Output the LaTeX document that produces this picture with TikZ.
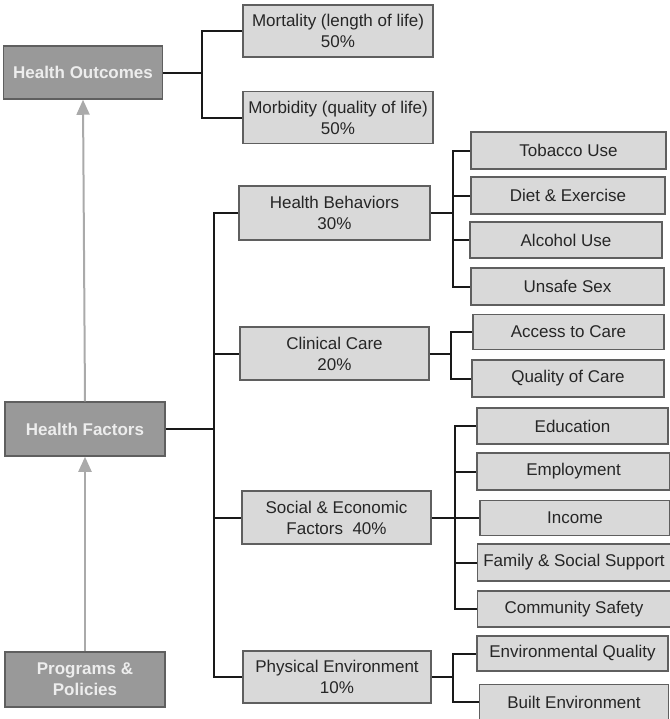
\documentclass[tikz,border=0pt]{standalone}
\usepackage{fontspec}
\setmainfont{Liberation Sans}
\usepackage{tikz}
\usetikzlibrary{arrows.meta}
\definecolor{darkbox}{RGB}{153,153,153}
\definecolor{lightbox}{RGB}{217,217,217}
\definecolor{boxline}{RGB}{95,95,95}
\definecolor{liftgray}{RGB}{170,170,170}

\begin{document}
\begin{tikzpicture}[scale=1,
  every node/.style={font=\fontsize{17bp}{21bp}\selectfont,align=center,inner sep=0pt},
  topbox/.style={draw=boxline,line width=1.5bp,fill=darkbox,text=white!93!black,font=\fontsize{17bp}{21bp}\selectfont\bfseries,minimum width=160bp,minimum height=54bp},
  midbox/.style={draw=boxline,line width=1.5bp,fill=lightbox,text=black!85,minimum width=190bp,minimum height=53bp},
  leafbox/.style={draw=boxline,line width=1.5bp,fill=lightbox,text=black!85,minimum width=193bp,minimum height=37bp},
  link/.style={draw=black!90,line width=2bp},
  lift/.style={draw=liftgray,line width=2bp,-{Triangle[width=13bp,length=15bp]}}]
\useasboundingbox (0bp,0bp) rectangle (670bp,-719bp);
% left column
\node (HO) at (83bp,-72.5bp)[topbox,minimum width=159bp,minimum height=53bp] {Health Outcomes};
\node (HF) at (85bp,-429bp)[topbox] {Health Factors};
\node (PP) at (85bp,-679.5bp)[topbox,minimum height=55bp] {Programs \&\\ Policies};
\draw [lift] (HF.north) to (HO.south);
\draw [lift] (PP.north) to (HF.south);
% outcomes
\node (Mort) at (338bp,-31bp)[midbox,minimum height=52bp] {Mortality (length of life)\\ 50\%};
\node (Morb) at (338bp,-117.5bp)[midbox,minimum height=52bp] {Morbidity (quality of life)\\ 50\%};
% factors
\node (HB) at (334.5bp,-213bp)[midbox,minimum width=191bp,minimum height=54bp] {Health Behaviors\\ 30\%};
\node (CC) at (334.5bp,-353.5bp)[midbox,minimum width=189bp] {Clinical Care\\ 20\%};
\node (SE) at (336.5bp,-517.5bp)[midbox,minimum width=189bp] {Social \& Economic\\ Factors\ \ 40\%};
\node (PE) at (337bp,-677bp)[midbox,minimum width=188bp,minimum height=52bp] {Physical Environment\\ 10\%};
% leaves
\node (Tob) at (568.5bp,-150.5bp)[leafbox,minimum width=195bp] {Tobacco Use};
\node (Diet) at (568bp,-195.5bp)[leafbox,minimum width=194bp] {Diet \& Exercise};
\node (Alc) at (566bp,-240bp)[leafbox,minimum width=192bp,minimum height=36bp] {Alcohol Use};
\node (Sex) at (567.5bp,-286.5bp)[leafbox] {Unsafe Sex};
\node (Acc) at (568.5bp,-332bp)[leafbox,minimum width=191bp,minimum height=35bp] {Access to Care};
\node (Qual) at (568bp,-378.5bp)[leafbox,minimum width=192bp] {Quality of Care};
\node (Edu) at (572.5bp,-426bp)[leafbox,minimum width=191bp,minimum height=36bp] {Education};
\node (Emp) at (573.5bp,-471.5bp)[leafbox] {Employment};
\node (Inc) at (575bp,-518bp)[leafbox,minimum width=190bp,minimum height=35bp] {Income};
\node (Fam) at (574bp,-562.5bp)[leafbox] {Family \& Social Support};
\node (Comm) at (574bp,-609bp)[leafbox,minimum height=36bp] {Community Safety};
\node (EnvQ) at (572.5bp,-653.5bp)[leafbox,minimum width=191bp,minimum height=35bp] {Environmental Quality};
\node (Built) at (574bp,-702bp)[leafbox,minimum width=189bp,minimum height=35bp] {Built Environment};
% junctions
\coordinate (jO) at (202bp,-72.5bp);
\coordinate (jF) at (214bp,-429bp);
\coordinate (jB) at (453bp,-213bp);
\coordinate (jC) at (451bp,-353.5bp);
\coordinate (jS) at (455bp,-517.5bp);
\coordinate (jP) at (453bp,-677bp);
\draw [link] (HO) -- (jO);
\draw [link] (HF) -- (jF);
\draw [link] (HB) -- (jB);
\draw [link] (CC) -- (jC);
\draw [link] (SE) -- (jS);
\draw [link] (PE) -- (jP);
\foreach \n in {Mort,Morb} \draw [link] (jO) |- (\n);
\foreach \n in {HB,CC,SE,PE} \draw [link] (jF) |- (\n);
\foreach \n in {Tob,Diet,Alc,Sex} \draw [link] (jB) |- (\n);
\foreach \n in {Acc,Qual} \draw [link] (jC) |- (\n);
\foreach \n in {Edu,Emp,Inc,Fam,Comm} \draw [link] (jS) |- (\n);
\foreach \n in {EnvQ,Built} \draw [link] (jP) |- (\n);
\end{tikzpicture}
\end{document}
